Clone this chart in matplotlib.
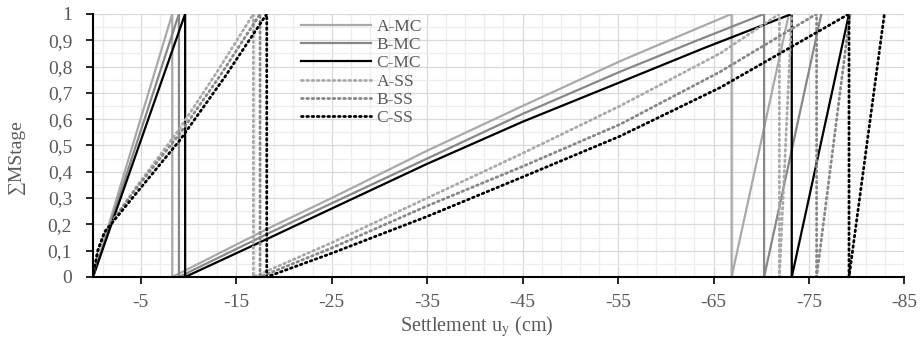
import matplotlib
matplotlib.use('Agg')
import matplotlib.pyplot as plt
from matplotlib.ticker import MultipleLocator, FixedLocator, FuncFormatter

plt.rcParams['font.family'] = ['Liberation Serif', 'DejaVu Serif']
plt.rcParams['mathtext.fontset'] = 'stix'
plt.rcParams['axes.unicode_minus'] = False

# settlement (cm) vs cumulative stage multiplier, three stages per series
a_mc_x = [0, -8.3, -8.3, -18.5, -25, -35, -45, -55.2, -62, -66.9, -66.9, -72.9]
a_mc_y = [0, 1, 0, 0.187, 0.30, 0.48, 0.65, 0.82, 0.925, 1, 0, 1]
b_mc_x = [0, -9.0, -9.0, -18.5, -25, -35, -45, -55.2, -63, -70.3, -70.3, -76.3]
b_mc_y = [0, 1, 0, 0.168, 0.28, 0.45, 0.62, 0.78, 0.895, 1, 0, 1]
c_mc_x = [0, -9.65, -9.65, -18.5, -25, -35, -45, -55.2, -64, -73.2, -73.2, -79.2]
c_mc_y = [0, 1, 0, 0.149, 0.26, 0.43, 0.59, 0.74, 0.87, 1, 0, 1]

a_ss_x = [0, -0.5, -1.2, -4.5, -9.0, -13.0, -16.8, -16.8, -25, -35, -45, -55.2, -65.7, -71.9, -71.9, -73.2]
a_ss_y = [0, 0.1, 0.17, 0.34, 0.56, 0.78, 1, 0, 0.13, 0.30, 0.47, 0.65, 0.85, 1, 0, 1]
b_ss_x = [0, -0.5, -1.2, -4.6, -9.1, -13.4, -17.5, -17.5, -25, -35, -45, -55.2, -65.7, -75.8, -75.8, -79.3]
b_ss_y = [0, 0.1, 0.17, 0.34, 0.545, 0.77, 1, 0, 0.11, 0.27, 0.42, 0.58, 0.78, 1, 0, 1]
c_ss_x = [0, -0.5, -1.2, -4.8, -9.1, -13.8, -18.2, -18.2, -25, -35, -45, -55.2, -65.7, -79.2, -79.2, -82.9]
c_ss_y = [0, 0.1, 0.17, 0.33, 0.52, 0.76, 1, 0, 0.09, 0.23, 0.38, 0.535, 0.72, 1, 0, 1]

fig = plt.figure(figsize=(9.21, 3.39), dpi=100)
ax = fig.add_axes([0.101, 0.183, 0.881, 0.776])

ax.plot(a_mc_x, a_mc_y, color='#a9a9a9', lw=1.6, label='A-MC')
ax.plot(b_mc_x, b_mc_y, color='#878787', lw=1.6, label='B-MC')
ax.plot(c_mc_x, c_mc_y, color='#000000', lw=1.6, label='C-MC')
ax.plot(a_ss_x, a_ss_y, color='#a9a9a9', lw=2.0, ls=(0, (0.6, 1.3)), dash_capstyle='round', label='A-SS')
ax.plot(b_ss_x, b_ss_y, color='#878787', lw=2.0, ls=(0, (0.6, 1.3)), dash_capstyle='round', label='B-SS')
ax.plot(c_ss_x, c_ss_y, color='#000000', lw=2.0, ls=(0, (0.6, 1.3)), dash_capstyle='round', label='C-SS')

ax.set_xlim(0, -85)
ax.set_ylim(0, 1)
ax.xaxis.set_major_locator(FixedLocator(list(range(-85, 0, 10))))
ax.xaxis.set_minor_locator(FixedLocator(list(range(-85, 0, 2))))
ax.yaxis.set_major_locator(MultipleLocator(0.1))
ax.yaxis.set_minor_locator(MultipleLocator(0.05))
ax.yaxis.set_major_formatter(FuncFormatter(lambda v, p: ('%g' % round(v, 2)).replace('.', ',')))

ax.grid(which='major', color='#d9d9d9', lw=0.9)
ax.grid(which='minor', color='#ededed', lw=0.9)
ax.set_axisbelow(True)

for s in ['top', 'right']:
    ax.spines[s].set_visible(False)
for s in ['left', 'bottom']:
    ax.spines[s].set_color('#000000')
    ax.spines[s].set_linewidth(1.5)

ax.tick_params(which='major', direction='out', length=5, width=1.2, color='#000000',
               labelsize=14, labelcolor='#595959')
ax.tick_params(which='minor', length=0)
ax.tick_params(axis='x', pad=7)
ax.tick_params(axis='y', pad=10)

ax.set_xlabel(r'Settlement u$_{\mathrm{y}}$ (cm)', fontsize=14.5, color='#595959')
ax.xaxis.set_label_coords(0.473, -0.143)
ax.set_ylabel('∑MStage', fontsize=14, color='#595959')
ax.yaxis.set_label_coords(-0.084, 0.455)

leg = ax.legend(loc='upper left', bbox_to_anchor=(0.248, 1.008), frameon=False,
                fontsize=12.5, handlelength=4.0, handletextpad=0.35, labelspacing=0.12,
                borderaxespad=0)
for t in leg.get_texts():
    t.set_color('#595959')

fig.savefig('out.png', dpi=100)
